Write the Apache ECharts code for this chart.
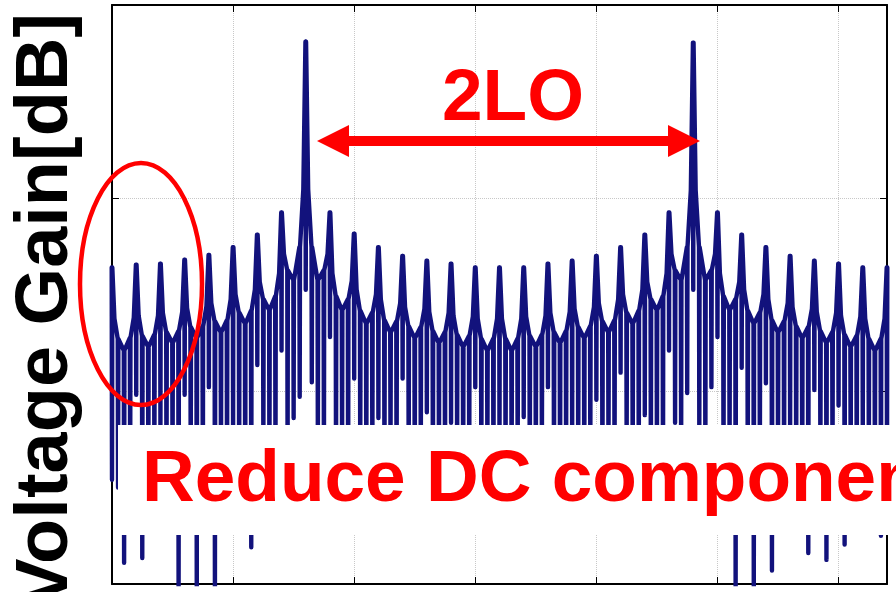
<!DOCTYPE html>
<html>
<head>
<meta charset="utf-8">
<script src="https://cdn.jsdelivr.net/npm/echarts@6/dist/echarts.min.js"></script>
<style>
html,body{margin:0;padding:0;background:#fff;}
#c{width:896px;height:592px;}
</style>
</head>
<body>
<div id="c"></div>
<script>
// Harmonic (tooth) spacing along the frequency axis, in axis units
const toothSpacing = 0.2;

// Envelope of the gain response (dB), one entry per tooth / per gap between teeth
const toothPeakDb = [-27.2,-26.9,-26.8,-26.4,-25.9,-25.1,-23.8,-21.5,-3.8,-21.5,-23.7,-25.1,-26.0,-26.5,-26.8,-27.2,
                     -27.2,-27.2,-26.8,-26.5,-26.0,-25.1,-23.8,-21.5,-3.9,-21.5,-23.8,-25.1,-26.0,-26.5,-26.8,-27.2,-27.2];
// value 0.02 after each tooth
const nearRightDb = [-32.5,-32.2,-31.9,-31.4,-30.9,-30.0,-28.7,-25.8,-19.1,-27.8,-29.5,-30.5,-31.3,-31.8,-32.2,-32.5,
                     -32.5,-32.3,-31.9,-31.5,-30.9,-30.0,-28.7,-25.8,-19.2,-27.8,-29.5,-30.5,-31.3,-31.8,-32.2,-32.5];
// value 0.05 after each tooth
const farRightDb  = [-34.6,-34.3,-33.9,-33.4,-32.8,-31.9,-30.5,-27.5,-25.1,-30.2,-31.7,-32.7,-33.3,-33.8,-34.2,-34.6,
                     -34.6,-34.3,-33.9,-33.4,-32.8,-31.9,-30.5,-27.5,-25.1,-30.2,-31.7,-32.7,-33.3,-33.8,-34.2,-34.6];
// valley midway between teeth
const valleyDb    = [-35.8,-35.4,-35.0,-34.5,-33.9,-33.0,-31.6,-28.5,-28.5,-31.6,-33.0,-33.9,-34.5,-35.0,-35.4,-35.8,
                     -35.8,-35.4,-35.0,-34.5,-33.9,-33.0,-31.6,-28.5,-28.5,-31.6,-33.0,-33.9,-34.5,-35.0,-35.4,-35.8];
// value 0.15 after each tooth
const farLeftDb   = [-34.5,-34.2,-33.8,-33.3,-32.7,-31.7,-30.2,-25.1,-27.5,-30.5,-31.9,-32.8,-33.4,-33.9,-34.3,-34.6,
                     -34.6,-34.2,-33.8,-33.3,-32.7,-31.7,-30.2,-25.1,-27.5,-30.5,-31.9,-32.8,-33.4,-33.9,-34.3,-34.6];
// value 0.18 after each tooth
const nearLeftDb  = [-32.4,-32.2,-31.8,-31.2,-30.5,-29.5,-27.8,-19.1,-25.8,-28.6,-30.0,-30.9,-31.5,-31.9,-32.3,-32.5,
                     -32.5,-32.2,-31.8,-31.3,-30.5,-29.5,-27.8,-19.2,-25.8,-28.7,-30.0,-30.9,-31.5,-31.9,-32.3,-32.5];

// Notch depths (dB), one every 0.05 along the frequency axis
const notchDb = [
  -49.2,-50.0,-57.8,-48.5,  -40.4,-57.3,-50.5,-47.8,  -44.0,-51.0,-49.0,-61.0,  -40.4,-48.0,-61.0,-52.0,
  -39.6,-61.0,-47.5,-50.5,  -45.1,-49.5,-52.5,-56.2,  -37.3,-46.5,-50.0,-48.0,  -35.8,-47.0,-42.8,-40.6,
  -29.5,-39.1,-46.0,-49.0,  -34.4,-48.5,-45.5,-51.5,  -38.7,-47.0,-50.0,-48.0,  -42.8,-49.5,-46.5,-51.0,
  -38.7,-48.0,-51.5,-47.0,  -42.2,-50.5,-47.5,-49.0,  -43.3,-46.5,-51.0,-48.5,  -39.6,-49.5,-47.0,-52.0,
  -46.1,-48.0,-50.5,-47.5,  -42.7,-51.0,-48.5,-46.0,  -39.6,-49.0,-52.0,-47.5,  -45.1,-48.0,-50.0,-46.5,
  -40.9,-51.5,-47.0,-49.5,  -38.1,-46.0,-50.0,-48.0,  -42.5,-49.0,-47.0,-51.0,  -35.8,-43.3,-47.0,-40.2,
  -29.5,-44.0,-48.0,-39.6,  -34.4,-50.0,-47.5,-61.0,  -37.6,-49.0,-61.0,-48.0,  -39.2,-58.6,-47.0,-50.5,
  -44.0,-48.5,-51.0,-56.8,  -39.9,-47.5,-57.5,-49.0,  -41.5,-55.9,-48.0,-50.5,  -45.1,-47.0,-49.5,-55.0,
  -49.0
];

const yLabel = 'Voltage Gain[dB]';
const spanLabel = '2LO';
const noteLabel = 'Reduce DC component';

// ---- build the polyline from the arrays ----
const pts = [];
const eps = 0.0025;
function addNotch(x, top, depth) {
  pts.push([x - eps, top], [x, depth], [x + eps, top]);
}
for (let k = 0; k < toothPeakDb.length; k++) {
  const x0 = +(k * toothSpacing).toFixed(4);
  addNotch(x0, toothPeakDb[k], notchDb[4 * k]);
  if (k < valleyDb.length) {
    pts.push([x0 + 0.02, nearRightDb[k]]);
    addNotch(x0 + 0.05, farRightDb[k], notchDb[4 * k + 1]);
    addNotch(x0 + 0.10, valleyDb[k], notchDb[4 * k + 2]);
    addNotch(x0 + 0.15, farLeftDb[k], notchDb[4 * k + 3]);
    pts.push([x0 + 0.18, nearLeftDb[k]]);
  }
}

const chart = echarts.init(document.getElementById('c'), null, { renderer: 'canvas' });
const bigFont = 'bold 73px "Liberation Sans", Arial, Helvetica, sans-serif';
const gridColor = '#c8c8c8';

function xAx(pos, split) {
  return {
    type: 'value', min: 0, max: 6.4, interval: 1, position: pos,
    axisLine: { show: true, onZero: false, lineStyle: { color: '#000', width: 2 } },
    axisTick: { show: true, inside: true, length: 7, lineStyle: { color: '#000', width: 1 } },
    axisLabel: { show: false },
    splitLine: { show: split, showMinLine: false, showMaxLine: false,
                 lineStyle: { color: gridColor, type: 'dotted', width: 1 } }
  };
}
function yAx(pos, split) {
  return {
    type: 'value', min: -60, max: 0, interval: 20, position: pos,
    axisLine: { show: true, onZero: false, lineStyle: { color: '#000', width: 2 } },
    axisTick: { show: true, inside: true, length: 7, lineStyle: { color: '#000', width: 1 } },
    axisLabel: { show: false },
    splitLine: { show: split, showMinLine: false, showMaxLine: false,
                 lineStyle: { color: gridColor, type: 'dotted', width: 1 } }
  };
}

chart.setOption({
  animation: false,
  backgroundColor: '#fff',
  grid: { left: 112, right: 9, top: 5, bottom: 8, show: false },
  xAxis: [xAx('bottom', true), xAx('top', false)],
  yAxis: [yAx('left', true), yAx('right', false)],
  series: [{
    type: 'line',
    xAxisIndex: 0, yAxisIndex: 0,
    data: pts,
    showSymbol: false,
    symbol: 'none',
    clip: true,
    lineStyle: { color: '#12127c', width: 4.4, join: 'round', cap: 'round' },
    z: 3
  }],
  graphic: [
    { type: 'rect', z: 100, shape: { x: 118, y: 425, width: 800, height: 110 }, style: { fill: '#fff' } },
    { type: 'text', z: 101, x: 142, y: 481,
      style: { text: noteLabel, font: bigFont, fill: '#ff0000', align: 'left', verticalAlign: 'middle' } },
    { type: 'text', z: 101, x: 513, y: 100,
      style: { text: spanLabel, font: bigFont, fill: '#ff0000', align: 'center', verticalAlign: 'middle' } },
    { type: 'line', z: 101, shape: { x1: 340, y1: 141, x2: 677, y2: 141 }, style: { stroke: '#ff0000', lineWidth: 10 } },
    { type: 'polygon', z: 101, shape: { points: [[317, 141], [349, 125], [349, 157]] }, style: { fill: '#ff0000' } },
    { type: 'polygon', z: 101, shape: { points: [[700, 141], [668, 125], [668, 157]] }, style: { fill: '#ff0000' } },
    { type: 'ellipse', z: 101, shape: { cx: 141, cy: 284, rx: 61, ry: 121 },
      style: { fill: 'none', stroke: '#ff0000', lineWidth: 4.5 } },
    { type: 'text', z: 101, x: 47, y: 13, rotation: Math.PI / 2,
      style: { text: yLabel, font: 'bold 74px "Liberation Sans", Arial, Helvetica, sans-serif', fill: '#000', align: 'right', verticalAlign: 'middle' } }
  ]
});
</script>
</body>
</html>
